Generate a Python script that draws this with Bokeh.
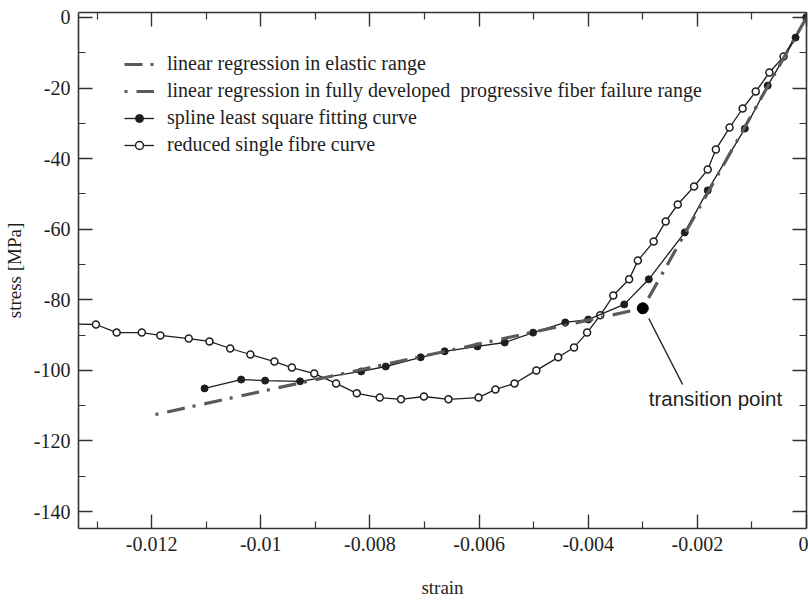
from bokeh.plotting import figure
from bokeh.models import (Range1d, FixedTicker, LinearAxis, Legend, LegendItem,
                          CustomJSTickFormatter, CustomLabelingPolicy)
from bokeh.embed import file_html
from bokeh.resources import INLINE
from bokeh.core.properties import value

# ---------------- data ----------------
reduced_strain = [-0.0136, -0.01302, -0.01264, -0.01218, -0.01184, -0.01132, -0.01094,
                  -0.01056, -0.01019, -0.00975, -0.00943, -0.00902, -0.00862, -0.00824,
                  -0.00782, -0.00743, -0.00701, -0.00656, -0.00601, -0.00570, -0.00535,
                  -0.00495, -0.00455, -0.00426, -0.00402, -0.00378, -0.00354, -0.00325,
                  -0.00309, -0.00280, -0.00258, -0.00236, -0.00206, -0.00181, -0.00166,
                  -0.00141, -0.00117, -0.00093, -0.00068, -0.00042, 0.0]
reduced_stress = [-86.8, -87.0, -89.3, -89.3, -90.1, -91.0, -91.8,
                  -93.8, -95.5, -97.5, -99.2, -100.9, -103.7, -106.5,
                  -107.7, -108.2, -107.4, -108.2, -107.7, -105.4, -103.7,
                  -100.0, -96.3, -93.5, -89.3, -84.4, -78.8, -74.2,
                  -68.9, -63.5, -57.8, -53.0, -47.9, -43.1, -37.4,
                  -31.2, -25.8, -21.0, -15.6, -11.1, 0.0]

spline_strain = [-0.01103, -0.01036, -0.00992, -0.00928, -0.00816, -0.00771, -0.00707,
                 -0.00663, -0.00603, -0.00553, -0.00501, -0.00442, -0.00400, -0.00334,
                 -0.00289, -0.00223, -0.00181, -0.00113, -0.00071, -0.00020, 0.0]
spline_stress = [-105.1, -102.6, -102.9, -103.1, -100.3, -98.9, -96.3,
                 -94.6, -93.2, -92.1, -89.3, -86.4, -85.6, -81.3,
                 -74.2, -60.9, -49.0, -31.5, -19.3, -5.7, 0.0]

elastic_strain = [0.0, -0.0030]
elastic_stress = [0.0, -82.4]
progressive_strain = [-0.01193, -0.0030]
progressive_stress = [-112.5, -82.4]

transition_strain = [-0.0030]
transition_stress = [-82.4]
pointer_strain = [-0.00289, -0.00227]
pointer_stress = [-85.3, -104.0]
note_strain = [-0.00289]
note_stress = [-108.0]
note_text = ["transition point"]

x_major = [-0.012, -0.01, -0.008, -0.006, -0.004, -0.002, 0.0]
x_minor = [-0.013, -0.011, -0.009, -0.007, -0.005, -0.003, -0.001]
y_major = [0, -20, -40, -60, -80, -100, -120, -140]
y_minor = [-10, -30, -50, -70, -90, -110, -130]

labels = ["linear regression in elastic range",
          "linear regression in fully developed  progressive fiber failure range",
          "spline least square fitting curve",
          "reduced single fibre curve"]

# ---------------- figure ----------------
SERIF = "Liberation Serif"
AX = "#333333"
INK = "#1e1e1e"
REG = "#5a5a5a"

p = figure(width=808, height=601, output_backend="svg", toolbar_location=None,
           x_range=Range1d(-0.01334, 0.0), y_range=Range1d(-144.8, 1.4),
           min_border_left=76, min_border_right=2, min_border_top=12,
           min_border_bottom=73, x_axis_label="strain", y_axis_label="stress [MPa]")
p.grid.visible = False
p.outline_line_color = None
p.background_fill_color = "white"
p.border_fill_color = "white"

xt = FixedTicker(ticks=x_major, minor_ticks=x_minor)
yt = FixedTicker(ticks=y_major, minor_ticks=y_minor)
xfmt = CustomJSTickFormatter(code="return tick == 0 ? '0' : String(parseFloat(tick.toFixed(4)));")
yfmt = CustomJSTickFormatter(code="return tick.toFixed(0);")

def style(ax, show_labels):
    ax.axis_line_color = AX
    ax.axis_line_width = 1.6
    ax.major_tick_line_color = AX
    ax.minor_tick_line_color = AX
    ax.major_tick_line_width = 1.4
    ax.minor_tick_line_width = 1.2
    ax.major_tick_in = 14
    ax.major_tick_out = 0
    ax.minor_tick_in = 7
    ax.minor_tick_out = 0
    ax.major_label_text_font = SERIF
    ax.major_label_text_color = INK
    ax.axis_label_text_font = SERIF
    ax.axis_label_text_font_style = "normal"
    ax.axis_label_text_color = INK
    ax.axis_label_text_font_size = "19px"
    if show_labels:
        ax.major_label_text_font_size = "20px"
    else:
        ax.major_label_text_font_size = "0px"
        ax.major_label_standoff = 0
        ax.major_label_policy = CustomLabelingPolicy(code="return []")

xb = p.xaxis[0]
xb.ticker = xt
xb.formatter = xfmt
style(xb, True)
xb.major_label_standoff = 8
xb.axis_label_standoff = 23

yl = p.yaxis[0]
yl.ticker = yt
yl.formatter = yfmt
style(yl, True)
yl.major_label_standoff = 8
yl.axis_label_standoff = 6

xa = LinearAxis(ticker=xt, formatter=xfmt)
style(xa, False)
p.add_layout(xa, "above")
yr = LinearAxis(ticker=yt, formatter=yfmt)
style(yr, False)
p.add_layout(yr, "right")

# curves
r_red_l = p.line(reduced_strain, reduced_stress, line_color=INK, line_width=1.3)
r_red_m = p.scatter(reduced_strain, reduced_stress, marker="circle", size=7,
                    line_color=INK, line_width=1.5, fill_color="white")
r_spl_l = p.line(spline_strain, spline_stress, line_color=INK, line_width=1.3)
r_spl_m = p.scatter(spline_strain, spline_stress, marker="circle", size=7,
                    line_color=INK, line_width=1, fill_color=INK)

r_el = p.line(elastic_strain, elastic_stress, line_color=REG, line_width=3.2,
              line_dash="18 8 3 9")
r_pr = p.line(progressive_strain, progressive_stress, line_color=REG, line_width=3.2,
              line_dash="18 8 3 9", line_dash_offset=26)

p.scatter(transition_strain, transition_stress, marker="circle", size=11,
          line_color="black", fill_color="black")
p.line(pointer_strain, pointer_stress, line_color=INK, line_width=1.4)
p.text(note_strain, note_stress, text=note_text, text_font=value("Liberation Sans"),
       text_font_size=value("20.5px"), text_color=INK, text_baseline="alphabetic",
       text_align="left")

legend = Legend(items=[LegendItem(label=labels[0], renderers=[r_el]),
                       LegendItem(label=labels[1], renderers=[r_pr]),
                       LegendItem(label=labels[2], renderers=[r_spl_l, r_spl_m]),
                       LegendItem(label=labels[3], renderers=[r_red_l, r_red_m])],
                location=(46, 372), orientation="vertical",
                border_line_alpha=0, background_fill_alpha=0,
                label_text_font=SERIF, label_text_font_size="20px",
                label_text_color=INK,
                glyph_width=30, glyph_height=20, label_height=20, spacing=4,
                padding=0, margin=0, label_standoff=13)
p.add_layout(legend)

open("out.html", "w").write(file_html(p, INLINE))
